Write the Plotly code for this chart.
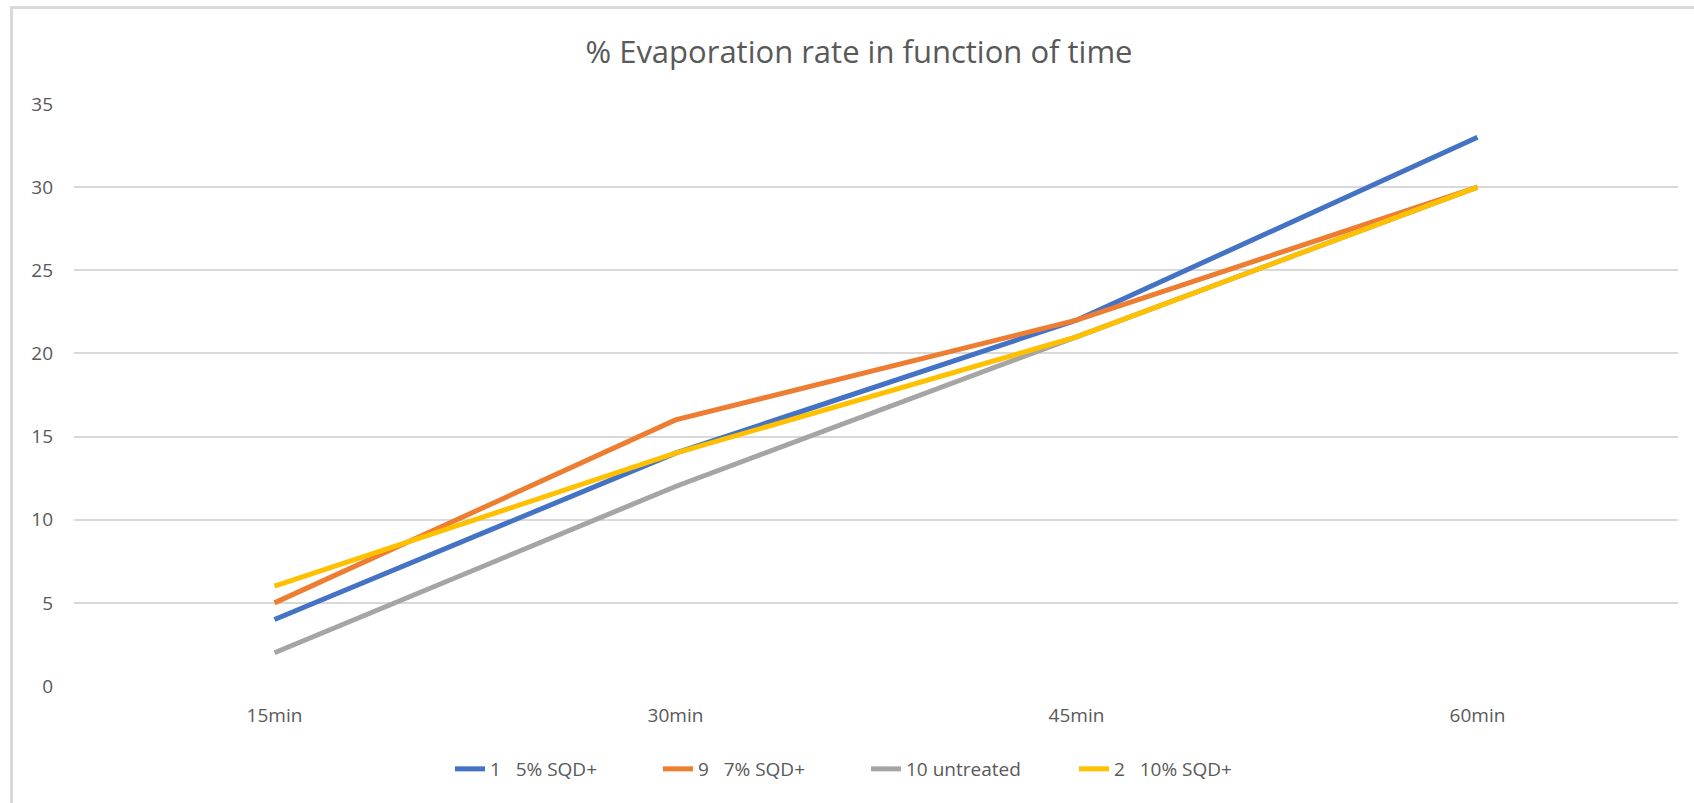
import plotly.graph_objects as go

# Evaporation measurements (%) at each time step
times = ["15min", "30min", "45min", "60min"]
s1_5pct = [4, 14, 22, 33]
s9_7pct = [5, 16, 22, 30]
s10_untreated = [2, 12, 21, 30]
s2_10pct = [6, 14, 21, 30]

series_names = ["1   5% SQD+", "9   7% SQD+", "10 untreated", "2   10% SQD+"]
series_values = [s1_5pct, s9_7pct, s10_untreated, s2_10pct]
series_colors = ["#4472C4", "#ED7D31", "#A5A5A5", "#FFC000"]

W, H = 1694, 803
ML, MR, MT, MB = 74, 16, 104, 117
plot_w = W - ML - MR
plot_h = H - MT - MB

fig = go.Figure()
for name, vals, col in zip(series_names, series_values, series_colors):
    fig.add_trace(go.Scatter(
        x=times, y=vals, name=name, mode="lines",
        line=dict(color=col, width=5),
    ))

text_col = "#595959"
grid_col = "#D9D9D9"

def px_to_paper_x(px):
    return (px - ML) / plot_w

def px_to_paper_y(py):
    return (H - MB - py) / plot_h

# frame lines on the left and top edges of the chart area
frame = [
    dict(type="line", xref="paper", yref="paper",
         x0=px_to_paper_x(11.5), x1=px_to_paper_x(11.5),
         y0=px_to_paper_y(6), y1=px_to_paper_y(H + 5),
         line=dict(color=grid_col, width=3)),
    dict(type="line", xref="paper", yref="paper",
         x0=px_to_paper_x(10), x1=px_to_paper_x(W + 5),
         y0=px_to_paper_y(7.5), y1=px_to_paper_y(7.5),
         line=dict(color=grid_col, width=3)),
]

fig.update_layout(
    width=W, height=H,
    margin=dict(l=ML, r=MR, t=MT, b=MB, autoexpand=False),
    paper_bgcolor="white", plot_bgcolor="white",
    font=dict(family="Open Sans", color=text_col, size=19),
    title=dict(text="% Evaporation rate in function of time",
               x=px_to_paper_x(859), xref="paper", xanchor="center",
               y=1 - 52 / H, yanchor="middle",
               font=dict(size=31, color=text_col)),
    xaxis=dict(showgrid=False, zeroline=False, showline=False,
               range=[-0.5, 3.5],
               ticks="", ticklabelstandoff=16,
               tickfont=dict(size=19, color=text_col)),
    yaxis=dict(range=[0, 35], dtick=5, tick0=0,
               showgrid=True, gridcolor=grid_col, gridwidth=2,
               zeroline=False, showline=False, ticks="",
               ticklabelstandoff=20,
               tickfont=dict(size=19, color=text_col)),
    legend=dict(orientation="h", x=px_to_paper_x(866), xanchor="center",
                y=px_to_paper_y(769), yanchor="middle",
                font=dict(size=19, color=text_col),
                entrywidth=163, entrywidthmode="pixels"),
    shapes=frame,
    showlegend=True,
)

fig.write_html("out.html")
